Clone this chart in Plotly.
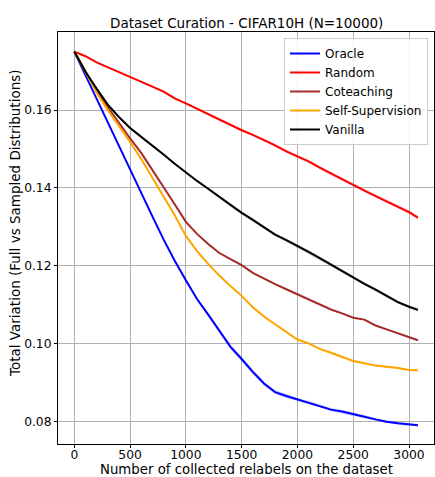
import plotly.graph_objects as go

# Number of collected relabels (x positions of the curves)
relabels = [0, 100, 200, 300, 400, 500, 600, 700, 800, 900, 1000, 1100, 1200, 1300,
            1400, 1500, 1600, 1700, 1800, 1900, 2000, 2100, 2200, 2300, 2400, 2500,
            2600, 2700, 2800, 2900, 3000, 3080]

# Mean total variation per curation strategy
oracle = [0.1750, 0.1689, 0.1629, 0.1568, 0.1508, 0.1447, 0.1387, 0.1327, 0.1268, 0.1213,
          0.1163, 0.1115, 0.1075, 0.1035, 0.0992, 0.0961, 0.0928, 0.0898, 0.0876, 0.0866,
          0.0857, 0.0850, 0.0841, 0.0831, 0.0826, 0.0820, 0.0813, 0.0806, 0.0800, 0.0796,
          0.0793, 0.0791]
random_sel = [0.1750, 0.1738, 0.1722, 0.1710, 0.1697, 0.1685, 0.1672, 0.1660, 0.1647, 0.1630,
              0.1617, 0.1603, 0.1590, 0.1576, 0.1562, 0.1548, 0.1536, 0.1523, 0.1509, 0.1494,
              0.1481, 0.1468, 0.1452, 0.1437, 0.1421, 0.1407, 0.1393, 0.1379, 0.1365, 0.1352,
              0.1338, 0.1324]
coteaching = [0.1750, 0.1699, 0.1649, 0.1607, 0.1566, 0.1527, 0.1490, 0.1447, 0.1403, 0.1358,
              0.1313, 0.1282, 0.1256, 0.1233, 0.1217, 0.1202, 0.1182, 0.1167, 0.1153, 0.1140,
              0.1127, 0.1115, 0.1103, 0.1088, 0.1078, 0.1067, 0.1062, 0.1047, 0.1037, 0.1027,
              0.1016, 0.1009]
self_supervision = [0.1750, 0.1697, 0.1645, 0.1600, 0.1560, 0.1518, 0.1474, 0.1426, 0.1380, 0.1330,
                    0.1277, 0.1238, 0.1205, 0.1175, 0.1148, 0.1123, 0.1094, 0.1070, 0.1050, 0.1030,
                    0.1011, 0.1001, 0.0987, 0.0977, 0.0966, 0.0956, 0.0950, 0.0944, 0.0941, 0.0938,
                    0.0933, 0.0932]
vanilla = [0.1750, 0.1698, 0.1655, 0.1614, 0.1582, 0.1554, 0.1531, 0.1509, 0.1486, 0.1462,
           0.1439, 0.1418, 0.1398, 0.1377, 0.1355, 0.1336, 0.1318, 0.1299, 0.1280, 0.1266,
           0.1252, 0.1236, 0.1220, 0.1203, 0.1186, 0.1170, 0.1154, 0.1139, 0.1123, 0.1107,
           0.1095, 0.1087]

# Spread (half-width of the shaded band) per strategy
oracle_sd = [0.0, 0.0001, 0.0001, 0.0001, 0.0002, 0.0002, 0.0002, 0.0002, 0.0003, 0.0003,
             0.0003, 0.0004, 0.0005, 0.0005, 0.0006, 0.0006, 0.0006, 0.0006, 0.0005, 0.0005,
             0.0004, 0.0004, 0.0004, 0.0004, 0.0004, 0.0004, 0.0004, 0.0003, 0.0003, 0.0003,
             0.0003, 0.0003]
random_sd = [0.0, 0.0001, 0.0001, 0.0002, 0.0002, 0.0002, 0.0003, 0.0003, 0.0003, 0.0003,
             0.0003, 0.0003, 0.0003, 0.0004, 0.0004, 0.0004, 0.0004, 0.0004, 0.0004, 0.0004,
             0.0004, 0.0004, 0.0004, 0.0005, 0.0005, 0.0005, 0.0005, 0.0005, 0.0005, 0.0005,
             0.0005, 0.0005]
coteaching_sd = [0.0, 0.0001, 0.0001, 0.0001, 0.0001, 0.0001, 0.0001, 0.0001, 0.0002, 0.0002,
                 0.0002, 0.0002, 0.0002, 0.0002, 0.0002, 0.0002, 0.0002, 0.0002, 0.0002, 0.0002,
                 0.0002, 0.0002, 0.0002, 0.0002, 0.0002, 0.0002, 0.0002, 0.0002, 0.0002, 0.0002,
                 0.0002, 0.0002]
self_supervision_sd = [0.0, 0.0001, 0.0001, 0.0001, 0.0001, 0.0002, 0.0002, 0.0002, 0.0002, 0.0002,
                       0.0002, 0.0003, 0.0003, 0.0003, 0.0003, 0.0003, 0.0003, 0.0003, 0.0003, 0.0003,
                       0.0003, 0.0003, 0.0003, 0.0003, 0.0003, 0.0003, 0.0003, 0.0003, 0.0003, 0.0003,
                       0.0003, 0.0003]
vanilla_sd = [0.0, 0.0001, 0.0002, 0.0002, 0.0002, 0.0003, 0.0003, 0.0003, 0.0003, 0.0003,
              0.0003, 0.0003, 0.0004, 0.0004, 0.0004, 0.0004, 0.0004, 0.0004, 0.0004, 0.0004,
              0.0004, 0.0004, 0.0004, 0.0004, 0.0004, 0.0004, 0.0004, 0.0004, 0.0004, 0.0004,
              0.0004, 0.0004]

series_names = ["Oracle", "Random", "Coteaching", "Self-Supervision", "Vanilla"]
series_means = [oracle, random_sel, coteaching, self_supervision, vanilla]
series_sds = [oracle_sd, random_sd, coteaching_sd, self_supervision_sd, vanilla_sd]
series_colors = ["#0000ff", "#ff0000", "#a52a2a", "#ffa500", "#000000"]
band_colors = ["rgba(0,0,255,0.2)", "rgba(255,0,0,0.2)", "rgba(165,42,42,0.2)",
               "rgba(255,165,0,0.2)", "rgba(0,0,0,0.2)"]

x_ticks = [0, 500, 1000, 1500, 2000, 2500, 3000]
y_ticks = [0.08, 0.10, 0.12, 0.14, 0.16]

FONT = "DejaVu Sans"
PLOT_L, PLOT_R, PLOT_T, PLOT_B = 58, 434, 32, 444
PLOT_W, PLOT_H = PLOT_R - PLOT_L, PLOT_B - PLOT_T

fig = go.Figure()

# Shaded spread bands
for mean, sd, bc in zip(series_means, series_sds, band_colors):
    upper = [m + s for m, s in zip(mean, sd)]
    lower = [m - s for m, s in zip(mean, sd)]
    fig.add_trace(go.Scatter(
        x=relabels + relabels[::-1],
        y=upper + lower[::-1],
        fill="toself", fillcolor=bc,
        line=dict(width=0, color=bc),
        mode="lines", hoverinfo="skip", showlegend=False,
    ))

# Mean curves
for name, mean, col in zip(series_names, series_means, series_colors):
    fig.add_trace(go.Scatter(
        x=relabels, y=mean, mode="lines", name=name,
        line=dict(color=col, width=2),
    ))

axis_common = dict(
    showline=True, linecolor="black", linewidth=1, mirror=True,
    ticks="outside", ticklen=3, tickwidth=1, tickcolor="black",
    showgrid=True, gridcolor="#b0b0b0", gridwidth=1,
    zeroline=False,
    tickfont=dict(family=FONT, size=12.3, color="black"),
)

fig.update_layout(
    width=435, height=477,
    margin=dict(l=PLOT_L, r=435 - PLOT_R, t=PLOT_T, b=477 - PLOT_B),
    paper_bgcolor="white", plot_bgcolor="white",
    font=dict(family=FONT, color="black"),
    xaxis=dict(range=[-146, 3224], tickvals=x_ticks, ticklabelstandoff=-4,
               **axis_common),
    yaxis=dict(range=[0.07428, 0.18002], tickvals=y_ticks, tickformat=".2f",
               **axis_common),
    legend=dict(
        x=(428 - PLOT_L) / PLOT_W, y=(PLOT_B - 38) / PLOT_H,
        xanchor="right", yanchor="top",
        bgcolor="rgba(255,255,255,0.85)", bordercolor="#cccccc", borderwidth=1,
        font=dict(family=FONT, size=12, color="black"),
        tracegroupgap=0,
    ),
    annotations=[
        dict(
            text="Dataset Curation - CIFAR10H (N=10000)",
            xref="paper", yref="paper", x=0.5, y=(PLOT_B - 23) / PLOT_H,
            xanchor="center", yanchor="middle", showarrow=False,
            font=dict(family=FONT, size=13.5, color="black"),
        ),
        dict(
            text="Number of collected relabels on the dataset",
            xref="paper", yref="paper", x=0.5, y=-(469.5 - PLOT_B) / PLOT_H,
            xanchor="center", yanchor="middle", showarrow=False,
            font=dict(family=FONT, size=13.3, color="black"),
        ),
        dict(
            text="Total Variation (Full vs Sampled Distributions)",
            xref="paper", yref="paper", x=-(PLOT_L - 15) / PLOT_W,
            y=(PLOT_B - 223) / PLOT_H,
            xanchor="center", yanchor="middle", textangle=-90, showarrow=False,
            font=dict(family=FONT, size=13.5, color="black"),
        ),
    ],
)

fig.write_html("out.html")
